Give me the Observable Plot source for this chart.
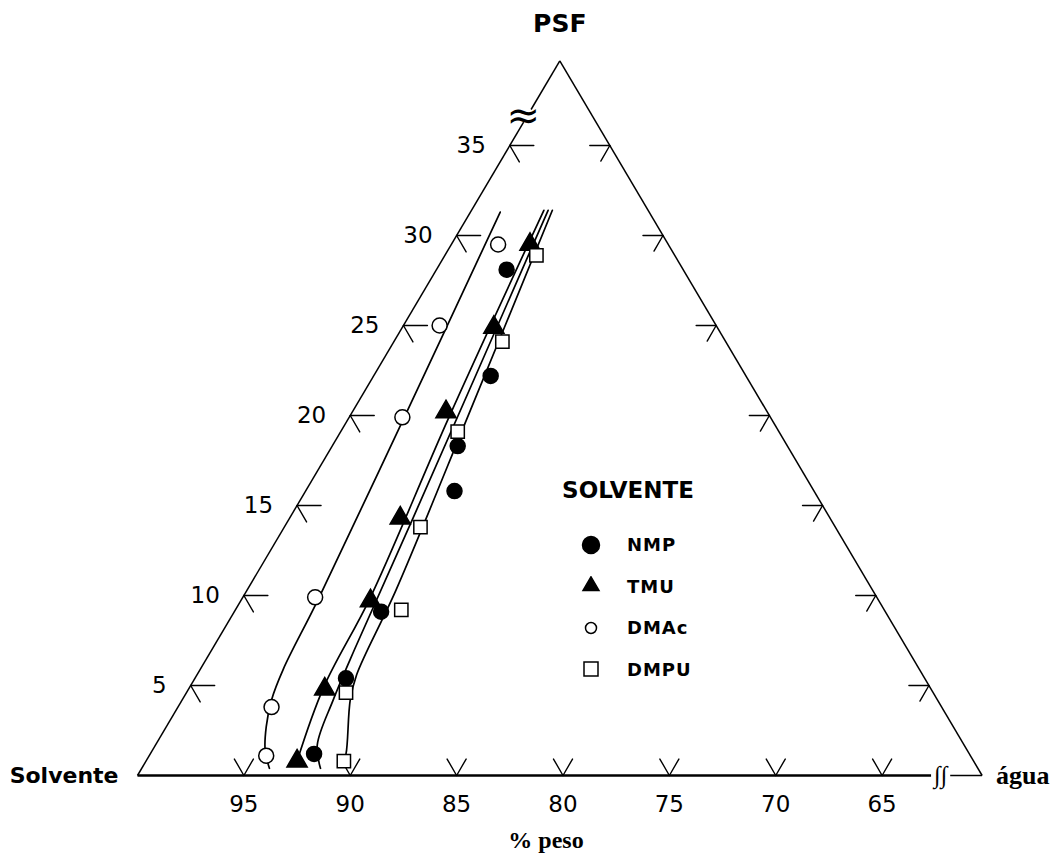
<!DOCTYPE html>
<html lang="pt">
<head>
<meta charset="utf-8">
<title>Diagrama ternário PSF / Solvente / água</title>
<script src="https://cdn.jsdelivr.net/npm/d3@7"></script>
<script src="https://cdn.jsdelivr.net/npm/@observablehq/plot@0.6"></script>
<style>
  html, body { margin: 0; padding: 0; background: #fff; }
  #chart { position: relative; width: 1058px; height: 862px; }
  #chart svg { display: block; }
  #legend { position: absolute; left: 560px; top: 476px; width: 136px;
            font-family: "DejaVu Sans", sans-serif; font-weight: bold; color: #000; }
  #legend .title { font-size: 23px; line-height: 28px; height: 28px; text-align: center; white-space: nowrap; }
  #legend .rows { margin-top: 20px; }
  #legend .row { height: 41.5px; display: flex; align-items: center; padding-left: 21px; }
  #legend .row svg { width: 20px; height: 20px; margin-right: 26px; flex: none; }
  #legend .row span { font-size: 18px; letter-spacing: 1px; }
</style>
</head>
<body>
<div id="chart"><div id="legend"></div></div>
<script>
// ---------------- data (wt %: solvent, PSF; água = remainder) ----------------
const solvents = ["NMP", "TMU", "DMAc", "DMPU"];
const symbolNames = ["circle", "triangle", "circle", "square"];
const fillColors = ["black", "black", "white", "white"];

// measured points
const nmpSolvent  = [68.6, 72.3, 75.8, 77.2, 84.0, 87.5, 91.1];
const nmpPSF      = [28.1, 22.2, 18.3, 15.8, 9.1, 5.4, 1.2];
const tmuSolvent  = [66.8, 70.8, 75.4, 80.5, 84.2, 88.8, 92.1];
const tmuPSF      = [29.5, 24.9, 20.2, 14.3, 9.7, 4.8, 0.8];
const dmacSolvent = [68.3, 73.3, 77.6, 86.7, 91.8, 93.4];
const dmacPSF     = [29.5, 25.0, 19.9, 9.9, 3.8, 1.1];
const dmpuSolvent = [66.8, 70.8, 75.4, 79.8, 83.0, 87.9, 89.9];
const dmpuPSF     = [28.9, 24.1, 19.1, 13.8, 9.2, 4.6, 0.8];

// fitted binodal curves
const nmpCurveSolvent  = [65.0, 79.9, 86.3, 88.7, 90.7, 91.2];
const nmpCurvePSF      = [31.4, 14.3, 7.0, 4.2, 1.7, 0.4];
const tmuCurveSolvent  = [65.2, 75.5, 84.1, 88.8, 92.1];
const tmuCurvePSF      = [31.4, 19.8, 9.9, 4.9, 0.8];
const dmacCurveSolvent = [67.3, 77.6, 86.6, 90.2, 91.6, 92.6, 93.3, 93.6];
const dmacCurvePSF     = [31.3, 19.8, 9.8, 5.9, 4.2, 2.7, 1.4, 0.4];
const dmpuCurveSolvent = [64.8, 74.2, 82.7, 86.9, 87.9, 89.6, 90.0];
const dmpuCurvePSF     = [31.4, 20.3, 10.3, 5.6, 4.2, 1.2, 0.7];

// axes / frame
const psfTicks = [5, 10, 15, 20, 25, 30, 35];
const solventTicks = [95, 90, 85, 80, 75, 70, 65];
const cornerLabels = ["Solvente", "água", "PSF"];
const drawnSide = 39.7;           // the drawn triangle spans 100 → 60.3 % solvent
const leftBreak = [36.3, 37.0];   // PSF % where the left side is broken
const bottomBreak = [62.7, 61.8]; // solvent % where the bottom side is broken
const axisTitle = "% peso";
const legendTitle = "SOLVENTE";

// ---------------- build tables ----------------
const pointSets = [[nmpSolvent, nmpPSF], [tmuSolvent, tmuPSF], [dmacSolvent, dmacPSF], [dmpuSolvent, dmpuPSF]];
const curveSets = [[nmpCurveSolvent, nmpCurvePSF], [tmuCurveSolvent, tmuCurvePSF], [dmacCurveSolvent, dmacCurvePSF], [dmpuCurveSolvent, dmpuCurvePSF]];
const points = solvents.flatMap((name, i) => pointSets[i][0].map((s, j) => ({solvent: name, s, p: pointSets[i][1][j], fill: fillColors[i]})));
const curves = solvents.flatMap((name, i) => curveSets[i][0].map((s, j) => ({solvent: name, s, p: curveSets[i][1][j]})));

// ternary → horizontal coordinate (solvent-% units along the base)
const tx = d => d.s + d.p / 2;
const sx1 = d => d.s1 + d.p1 / 2, sx2 = d => d.s2 + d.p2 / 2;

const sLeft = 100, sRight = 100 - drawnSide;
const corners = [
  {s: sLeft, p: 0, label: cornerLabels[0]},
  {s: sRight, p: 0, label: cornerLabels[1]},
  {s: sRight, p: drawnSide, label: cornerLabels[2]}
];
const thinSides = [
  {s1: sLeft, p1: 0, s2: 100 - leftBreak[0], p2: leftBreak[0]},
  {s1: 100 - leftBreak[1], p1: leftBreak[1], s2: sRight, p2: drawnSide},
  {s1: sRight, p1: 0, s2: sRight, p2: drawnSide},
  {s1: bottomBreak[1], p1: 0, s2: sRight, p2: 0}
];
const baseSide = [{s1: sLeft, p1: 0, s2: bottomBreak[0], p2: 0}];
const leftTicks = psfTicks.map(p => ({s: 100 - p, p}));
const rightTicks = psfTicks.map(p => ({s: sRight, p}));
const bottomTicks = solventTicks.map(s => ({s, p: 0}));
const leftBreakMid = [{s: 100 - (leftBreak[0] + leftBreak[1]) / 2, p: (leftBreak[0] + leftBreak[1]) / 2}];
const bottomBreakMid = [{s: (bottomBreak[0] + bottomBreak[1]) / 2, p: 0}];

const lineShape = {draw(context, l) { context.moveTo(0, 0); context.lineTo(0, -l); }};
const tick = (data, length, rotate) => Plot.vector(data, {x: tx, y: "p", length, rotate, anchor: "start", shape: lineShape, stroke: "black", strokeWidth: 1.4});

const sans = "DejaVu Sans, sans-serif";
const serif = "Liberation Serif, Times New Roman, serif";

const chart = Plot.plot({
  width: 1058,
  height: 862,
  marginTop: 55,
  marginBottom: 87,
  marginLeft: 137,
  marginRight: 70,
  x: {domain: [100, 60]},
  y: {domain: [0, 40], axis: null},
  symbol: {domain: solvents, range: symbolNames},
  style: {background: "white", color: "black", overflow: "visible"},
  marks: [
    // triangle frame
    Plot.link(thinSides, {x1: sx1, y1: "p1", x2: sx2, y2: "p2", stroke: "black", strokeWidth: 1.5}),
    Plot.link(baseSide, {x1: sx1, y1: "p1", x2: sx2, y2: "p2", stroke: "black", strokeWidth: 2.6}),
    Plot.text(leftBreakMid, {x: tx, y: "p", text: () => "≈", fontSize: 40, fontFamily: sans, dx: -4}),
    Plot.text(bottomBreakMid, {x: tx, y: "p", text: () => "∫∫", fontSize: 24, fontFamily: serif, fontStyle: "italic"}),
    // direction ticks
    tick(leftTicks, 24, 90), tick(leftTicks, 19, 150),
    tick(rightTicks, 20, 270), tick(rightTicks, 18, 210),
    tick(bottomTicks, 19, 330), tick(bottomTicks, 19, 30),
    // tick labels
    Plot.axisX({ticks: solventTicks, tickSize: 0, tickPadding: 20, fontSize: 23, fontFamily: sans, label: null}),
    Plot.text(leftTicks, {x: tx, y: "p", text: d => String(d.p), textAnchor: "end", dx: -24, fontSize: 23, fontFamily: sans}),
    Plot.text([axisTitle], {frameAnchor: "bottom", text: d => d, dx: -17, dy: 72, fontSize: 24, fontWeight: "bold", fontFamily: serif}),
    // corner labels
    Plot.text(corners.filter(d => d.label === cornerLabels[0]), {x: tx, y: "p", text: "label", textAnchor: "end", dx: -19, fontSize: 22, fontWeight: "bold", fontFamily: sans}),
    Plot.text(corners.filter(d => d.label === cornerLabels[1]), {x: tx, y: "p", text: "label", textAnchor: "start", dx: 14, fontSize: 26, fontWeight: "bold", fontFamily: serif}),
    Plot.text(corners.filter(d => d.label === cornerLabels[2]), {x: tx, y: "p", text: "label", dy: -37, fontSize: 25, fontWeight: "bold", fontFamily: sans}),
    // binodal curves
    Plot.line(curves, {x: tx, y: "p", z: "solvent", curve: "catmull-rom", stroke: "black", strokeWidth: 1.7}),
    // data points
    Plot.dot(points, {x: tx, y: "p", symbol: "solvent", fill: "fill", stroke: "black", strokeWidth: 1.5, r: 7.5})
  ]
});
document.getElementById("chart").prepend(chart);

// ---------------- legend ----------------
const legend = d3.select("#legend");
legend.append("div").attr("class", "title").text(legendTitle);
const rows = legend.append("div").attr("class", "rows");
const legendSizes = [227, 111, 95, 196];
const legendTypes = [d3.symbolCircle, d3.symbolTriangle, d3.symbolCircle, d3.symbolSquare];
solvents.forEach((name, i) => {
  const row = rows.append("div").attr("class", "row");
  const svg = row.append("svg").attr("viewBox", "-10 -10 20 20");
  svg.append("path")
    .attr("d", d3.symbol().type(legendTypes[i]).size(legendSizes[i])())
    .attr("fill", fillColors[i]).attr("stroke", "black").attr("stroke-width", 1.5);
  row.append("span").text(name);
});
</script>
</body>
</html>
